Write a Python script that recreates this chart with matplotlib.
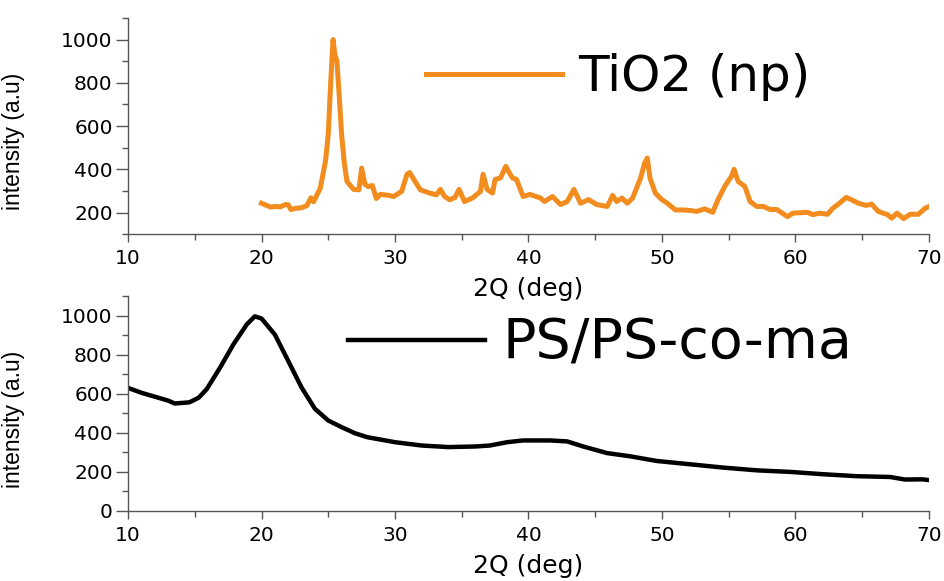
import matplotlib.pyplot as plt
from matplotlib.ticker import MultipleLocator

# XRD patterns: TiO2 nanoparticles and PS/PS-co-ma
tio2_x = [20.0, 20.3, 20.7, 21.0, 21.4, 21.8, 22.0, 22.2, 22.6, 23.0, 23.4, 23.7, 23.9,
          24.4, 24.8, 25.0, 25.2, 25.36, 25.5, 25.65, 25.8, 26.0, 26.2, 26.4, 26.9,
          27.3, 27.5, 27.75, 28.0, 28.3, 28.6, 28.9, 29.5, 29.9, 30.5, 30.9, 31.1,
          31.5, 31.9, 32.6, 33.1, 33.4, 33.7, 34.1, 34.5, 34.8, 35.2, 35.8, 36.4,
          36.6, 36.9, 37.3, 37.5, 37.9, 38.3, 38.6, 38.8, 39.1, 39.6, 40.1, 40.9,
          41.2, 41.8, 42.4, 42.9, 43.4, 43.9, 44.5, 45.1, 45.9, 46.3, 46.6, 47.0,
          47.4, 47.8, 48.4, 48.7, 48.9, 49.1, 49.5, 50.0, 50.4, 51.0, 51.6, 52.2,
          52.6, 53.2, 53.8, 54.2, 54.7, 55.2, 55.4, 55.7, 56.2, 56.6, 57.1, 57.6,
          58.1, 58.6, 59.4, 59.8, 60.9, 61.3, 61.8, 62.4, 62.8, 63.3, 63.8, 64.2,
          64.7, 65.3, 65.7, 66.2, 66.9, 67.2, 67.6, 68.1, 68.6, 69.2, 69.7, 70.0]
tio2_y = [243, 235, 225, 228, 226, 237, 236, 214, 220, 222, 232, 268, 250,
          312, 440, 562, 820, 1000, 930, 900, 760, 562, 430, 344, 307,
          305, 405, 330, 320, 325, 265, 284, 280, 274, 298, 377, 385,
          344, 305, 290, 282, 307, 275, 259, 270, 307, 251, 267, 298,
          377, 307, 290, 353, 360, 414, 380, 360, 353, 274, 284, 267,
          251, 274, 237, 251, 307, 243, 260, 237, 228, 279, 251, 267,
          243, 267, 360, 429, 452, 360, 290, 259, 243, 212, 212, 209,
          205, 217, 201, 260, 321, 367, 400, 344, 321, 251, 228, 228,
          214, 214, 181, 197, 201, 190, 197, 192, 220, 243, 270, 259,
          243, 233, 239, 205, 190, 174, 197, 172, 192, 192, 219, 228]

ps_x = [10, 11, 12, 13, 13.5, 14.6, 15.3, 15.9, 16.9, 17.9, 18.9, 19.5, 20.0,
        21.0, 22.0, 23.0, 24.0, 25.0, 26.0, 27.0, 27.9, 30, 32, 34, 36, 37.1,
        38.4, 39.6, 41.6, 42.9, 44.1, 45.9, 47.6, 49.6, 52.1, 54.6, 57.1, 59.6,
        62.1, 64.6, 67.1, 68.2, 69.5, 70]
ps_y = [630, 605, 585, 565, 550, 556, 580, 624, 734, 853, 955, 996, 985,
        903, 768, 632, 523, 463, 429, 398, 378, 352, 335, 327, 330, 335,
        352, 361, 361, 356, 330, 296, 280, 256, 239, 222, 208, 200,
        188, 178, 174, 161, 162, 158]

x_label = "2Q (deg)"
y_label = "intensity (a.u)"

fig = plt.figure(figsize=(9.44, 5.81), dpi=100)
ax1 = fig.add_axes([0.1356, 0.597, 0.8485, 0.372])
ax2 = fig.add_axes([0.1356, 0.1205, 0.8485, 0.370])
# lower panel background must not hide the upper x label
ax2.patch.set_visible(False)

axis_grey = "#555555"


def style_axis(ax, ylim, ylab_y):
    for side in ["top", "right"]:
        ax.spines[side].set_visible(False)
    for side in ["left", "bottom"]:
        ax.spines[side].set_color(axis_grey)
        ax.spines[side].set_linewidth(1.0)
    ax.set_xlim(10, 70)
    ax.set_ylim(*ylim)
    ax.xaxis.set_major_locator(MultipleLocator(10))
    ax.xaxis.set_minor_locator(MultipleLocator(5))
    ax.yaxis.set_major_locator(MultipleLocator(200))
    ax.yaxis.set_minor_locator(MultipleLocator(100))
    ax.tick_params(axis="both", which="both", direction="out", color=axis_grey, width=1.0)
    ax.tick_params(axis="x", which="major", length=6, pad=5, labelsize=14.5)
    ax.tick_params(axis="x", which="minor", length=4)
    ax.tick_params(axis="y", which="major", length=9, pad=2, labelsize=14.5)
    ax.tick_params(axis="y", which="minor", length=4)
    ax.set_xlabel(x_label, fontsize=18, labelpad=6)
    ax.set_ylabel(y_label, fontsize=16.5, family="Liberation Sans")
    ax.yaxis.set_label_coords(-0.128, ylab_y)


ax1.plot(tio2_x, tio2_y, color="#f28c1e", lw=3.6, label="TiO2 (np)",
         solid_joinstyle="round")
style_axis(ax1, (100, 1100), 0.43)
# only 200..1000 carry labels on the upper panel
ax1.set_yticks([200, 400, 600, 800, 1000])
ax1.legend(loc="center left", bbox_to_anchor=(0.372, 0.727), frameon=False,
           fontsize=36, handlelength=2.72, handletextpad=0.32,
           borderpad=0, borderaxespad=0)

ax2.plot(ps_x, ps_y, color="black", lw=3.2, label="PS/PS-co-ma",
         solid_joinstyle="round")
style_axis(ax2, (0, 1100), 0.428)
ax2.legend(loc="center left", bbox_to_anchor=(0.275, 0.777), frameon=False,
           fontsize=40, handlelength=2.46, handletextpad=0.32,
           borderpad=0, borderaxespad=0)

fig.savefig("out.png", dpi=100)
